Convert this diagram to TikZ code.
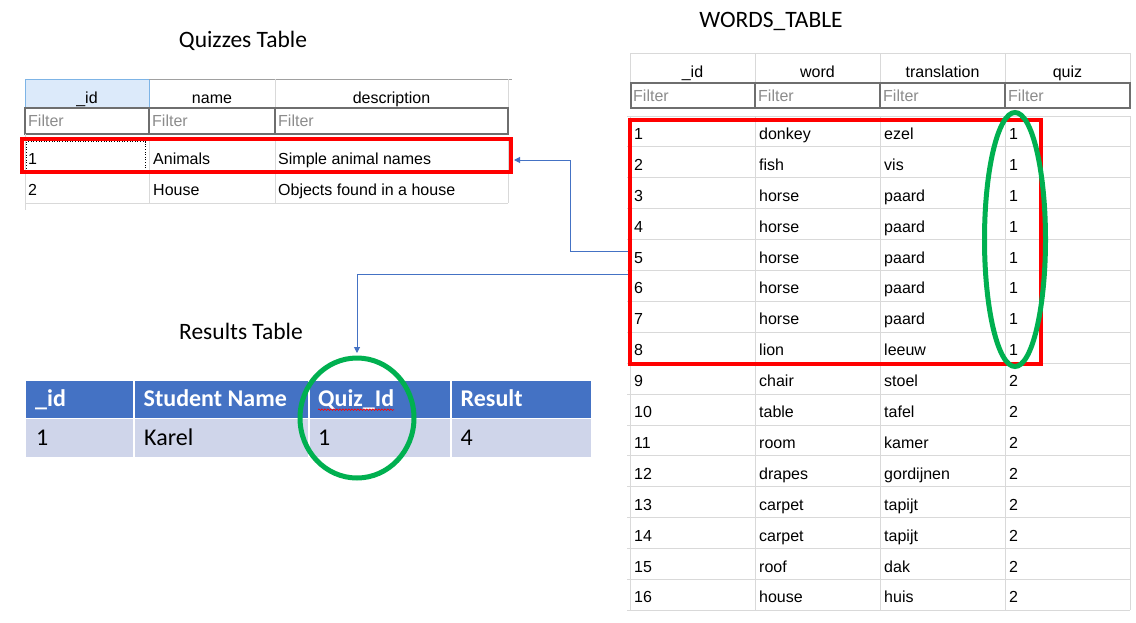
\documentclass[tikz,border=0pt]{standalone}
\usepackage{fontspec}
\setmainfont{Liberation Sans}
\newfontfamily\tblfam{Liberation Sans}
\newfontfamily\calfam{Carlito}
\newcommand\tblfont{\tblfam\fontsize{16}{19}\selectfont}
\newcommand\ttlfont{\calfam\fontsize{23.5}{28}\selectfont}
\newcommand\rsltfont{\calfam\fontsize{24}{29}\selectfont}
\usetikzlibrary{arrows.meta,shapes.geometric,decorations.pathmorphing}
\definecolor{gridgray}{HTML}{D9D9D9}
\definecolor{headline}{HTML}{A0A0A0}
\definecolor{filtergray}{HTML}{6E6E6E}
\definecolor{filtertext}{HTML}{8C8C8C}
\definecolor{hdrblue}{HTML}{DCEAFA}
\definecolor{hdrblueline}{HTML}{7DB4E6}
\definecolor{resblue}{HTML}{4472C4}
\definecolor{reslight}{HTML}{CFD5EA}
\definecolor{boxred}{HTML}{FF0000}
\definecolor{ringgreen}{HTML}{00B050}
\definecolor{linkblue}{HTML}{4472C4}
\begin{document}
\begin{tikzpicture}[x=1pt,y=-1pt,
  tab/.style={font=\tblfont, inner sep=0pt, anchor=base west, text=black},
  tabhead/.style={font=\tblfont, inner sep=0pt, anchor=base, text=black},
  filtertxt/.style={font=\tblfont, inner sep=0pt, anchor=base west, text=filtertext},
  filterbox/.style={draw=filtergray, line width=1.2pt},
  gridline/.style={draw=gridgray, line width=1pt},
  redbox/.style={draw=boxred, line width=3.5pt, inner sep=0pt, rectangle},
  greenring/.style={draw=ringgreen, line width=5pt, ellipse, inner sep=0pt},
  link/.style={draw=linkblue, line width=1pt, -{Triangle[width=6pt,length=6pt]}},
  ttl/.style={font=\ttlfont, inner sep=0pt, anchor=base},
  reshead/.style={font=\rsltfont\bfseries, text=white, anchor=base west, inner sep=0pt},
  rescell/.style={font=\rsltfont, text=black, anchor=base west, inner sep=0pt},
]
\useasboundingbox (0,0) rectangle (1136,622);
\fill[white] (0,0) rectangle (1136,622);

% ---------------- titles ----------------
\node[ttl] (tquiz) at (243,47) {Quizzes Table};
\node[ttl] (twords) at (771,27.5) {WORDS\_TABLE};
\node[ttl] (tres) at (241,339) {Results Table};

% ---------------- Quizzes table ----------------
\fill[hdrblue] (25,79) rectangle (149,108);
\draw[hdrblueline, line width=1pt] (25,108) -- (25,79) -- (149,79) -- (149,108);
\draw[headline, line width=1pt] (149,79) -- (512,79);
\draw[gridline] (275,79) -- (275,108);
\draw[gridline] (508,79) -- (508,108);
\draw[filterbox] (25,108) rectangle (149,134);
\draw[filterbox] (149,108) rectangle (275,134);
\draw[filterbox] (275,108) rectangle (508,134);
\node[tabhead] (qh1) at (87,103.3) {\_id};
\node[tabhead] (qh2) at (212,103.3) {name};
\node[tabhead] (qh3) at (391.5,103.3) {description};
\node[filtertxt] (qf1) at (28,126.7) {Filter};
\node[filtertxt] (qf2) at (152,126.7) {Filter};
\node[filtertxt] (qf3) at (278,126.7) {Filter};
% rows grid
\draw[gridline] (25,140) -- (508,140);
\draw[gridline] (25,172) -- (508,172);
\draw[gridline] (25,203) -- (508,203);
\draw[gridline] (25,134) -- (25,210);
\draw[gridline] (149,140) -- (149,203);
\draw[gridline] (275,140) -- (275,203);
\draw[gridline] (508,140) -- (508,203);
\draw[dotted, line width=0.6pt] (26.5,141.5) rectangle (145.5,170.5);
\node[tab] (q11) at (28,164.3) {1};
\node[tab] (q12) at (153,164.3) {Animals};
\node[tab] (q13) at (278,164.3) {Simple animal names};
\node[tab] (q21) at (28,195) {2};
\node[tab] (q22) at (153,195) {House};
\node[tab] (q23) at (278,195) {Objects found in a house};
\node[redbox, minimum width=489, minimum height=33] (quizsel) at (266.5,155.5) {};

% ---------------- Words table ----------------
\draw[gridline] (630,53) -- (1130,53);
\foreach \cx in {630,755,880,1005,1130} {
  \draw[gridline] (\cx,53) -- (\cx,83);
}
\draw[filterbox] (631,83) rectangle (755,108);
\draw[filterbox] (755,83) rectangle (880,108);
\draw[filterbox] (880,83) rectangle (1005,108);
\draw[filterbox] (1005,83) rectangle (1130,108);
\node[tabhead] (wh1) at (692.5,77.8) {\_id};
\node[tabhead] (wh2) at (817.5,77.8) {word};
\node[tabhead] (wh3) at (942.5,77.8) {translation};
\node[tabhead] (wh4) at (1067.5,77.8) {quiz};
\node[filtertxt] (wf1) at (633,101.2) {Filter};
\node[filtertxt] (wf2) at (758,101.2) {Filter};
\node[filtertxt] (wf3) at (883,101.2) {Filter};
\node[filtertxt] (wf4) at (1008,101.2) {Filter};
\foreach \k in {0,...,16} {
  \draw[gridline] (627,{116+30.9*\k}) -- (1130,{116+30.9*\k});
}
\foreach \cx in {630,755,880,1005,1130} {
  \draw[gridline] (\cx,116) -- (\cx,610.4);
}
\foreach \i/\w/\t/\q in {1/donkey/ezel/1, 2/fish/vis/1, 3/horse/paard/1,
    4/horse/paard/1, 5/horse/paard/1, 6/horse/paard/1, 7/horse/paard/1,
    8/lion/leeuw/1, 9/chair/stoel/2, 10/table/tafel/2, 11/room/kamer/2,
    12/drapes/gordijnen/2, 13/carpet/tapijt/2, 14/carpet/tapijt/2,
    15/roof/dak/2, 16/house/huis/2} {
  \pgfmathsetmacro\yb{116+30.9*(\i-0.5)+8}
  \node[tab] (wa\i) at (634,\yb) {\i};
  \node[tab] (wb\i) at (759,\yb) {\w};
  \node[tab] (wc\i) at (884,\yb) {\t};
  \node[tab] (wd\i) at (1009,\yb) {\q};
}
\node[redbox, minimum width=411, minimum height=244, anchor=north west] (wordsel) at (628,118) {};
\node[greenring, minimum width=61, minimum height=254] (quizring) at (1015,239.5) {};

% ---------------- Results table ----------------
\fill[resblue] (26,380.5) rectangle (591,417.5);
\fill[reslight] (26,419) rectangle (591,457);
\foreach \cx in {133.5,308.5,450.5} {
  \draw[white, line width=2pt] (\cx,380) -- (\cx,457);
}
\node[reshead] (rh1) at (35,406.7) {\_id};
\node[reshead] (rh2) at (143.5,406.7) {Student Name};
\node[reshead] (rh3) at (318,406.7) {Quiz\_Id};
\node[reshead] (rh4) at (460.5,406.7) {Result};
\node[rescell] (rc1) at (36,445) {1};
\node[rescell] (rc2) at (144,445) {Karel};
\node[rescell] (rc3) at (318,445) {1};
\node[rescell] (rc4) at (460.5,445) {4};
\draw[red, line width=0.6pt, decorate, decoration={snake, amplitude=0.8pt, segment length=3pt}]
  (rh3.base west) ++(0,3) -- ++(76,0);
\node[greenring, minimum width=114, minimum height=120] (resring) at (357,418) {};

% ---------------- connectors ----------------
\coordinate (lnka) at (628,251);
\coordinate (bend) at (570,160);
\coordinate (qend) at (514,160);
\coordinate (lnkb) at (628,274);
\draw[link] (lnka) -| (bend) -- (qend);
\draw[link, shorten >=2.5pt] (lnkb) -| (resring.north);
\end{tikzpicture}
\end{document}
